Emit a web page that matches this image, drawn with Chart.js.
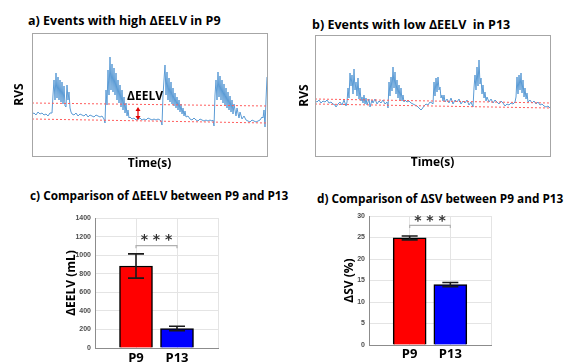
<!DOCTYPE html>
<html>
<head>
<meta charset="utf-8">
<script src="https://cdn.jsdelivr.net/npm/chart.js@4.4.0/dist/chart.umd.min.js"></script>
<style>
  html, body { margin: 0; padding: 0; background: #fff; }
  body { width: 573px; height: 363px; position: relative; overflow: hidden; }
  canvas { position: absolute; }
  .ttl { position: absolute; font: bold 12.5px "Open Sans", sans-serif; line-height: 14px; white-space: pre; color: #000; }
  .ttl.sm { font-size: 11.8px; }
</style>
</head>
<body>
<div class="ttl" id="tA" style="left:28px; top:14px;"></div>
<div class="ttl" id="tB" style="left:312px; top:18px;"></div>
<div class="ttl sm" id="tC" style="left:30px; top:188px;"></div>
<div class="ttl sm" id="tD" style="left:317px; top:191px;"></div>
<canvas id="chartA" width="270" height="145" style="left:8px; top:30px;"></canvas>
<canvas id="chartB" width="265" height="145" style="left:293px; top:30px;"></canvas>
<canvas id="chartC" width="170" height="158" style="left:60px; top:205px;"></canvas>
<canvas id="chartD" width="165" height="158" style="left:335px; top:205px;"></canvas>
<script>
// Panel titles
const titles = [
  'a) Events with high \u0394EELV in P9',
  'b) Events with low \u0394EELV  in P13',
  'c) Comparison of \u0394EELV between P9 and P13',
  'd) Comparison of \u0394SV between P9 and P13'
];

// RVS traces, [time, rvs] (arbitrary units)
const rvsP9 = [
  [0,42],[2,43],[4,41],[6,44],[8,42],[10,43],[12,41],[14,42],[16,40],[18,43],[20,43],
  [21,61],[22,76],[23,56],[24,83],[25,58],[26,79],[27,56],[28,76],[29,54],[30,74],[31,52],
  [32,70],[33,50],[34,49],[35,71],[36,56],[37,64],[38,48],[39,44],[40,42],
  [42,41],[44,43],[46,40],[48,42],[50,41],[52,40],[54,42],[56,39],[58,41],[60,40],[62,39],
  [64,41],[66,40],[68,39],[70,40],[72,37],[73,33],
  [74,66],[75,51],[76,86],[77,61],[78,99],[79,66],[80,92],[81,64],[82,88],[83,61],[84,83],
  [85,56],[86,76],[87,53],[88,71],[89,49],[90,66],[91,46],[92,59],[93,43],[94,53],[95,40],
  [96,46],[97,38],[98,39],
  [100,37],[102,38],[104,36],[106,37],[108,38],[110,36],[112,37],[114,36],[116,38],[118,37],
  [120,36],[122,37],[124,36],[126,37],[128,36],[129,35],[130,31],
  [131,61],[132,76],[133,91],[134,61],[135,84],[136,56],[137,78],[138,54],[139,74],[140,52],
  [141,68],[142,50],[143,63],[144,48],[145,59],[146,46],[147,56],[148,44],[149,52],[150,42],
  [151,48],[152,40],[153,45],[154,39],[156,40],
  [158,37],[160,36],[162,38],[164,36],[166,35],[168,37],[170,36],[172,35],[174,36],[176,35],
  [178,36],[180,35],[181,36],[182,30],
  [183,61],[184,76],[185,56],[186,84],[187,59],[188,80],[189,56],[190,76],[191,53],[192,72],
  [193,51],[194,68],[195,48],[196,64],[197,46],[198,60],[199,44],[200,56],[201,42],[202,52],
  [204,40],[205,48],[207,38],[208,44],[210,37],[212,40],[214,36],
  [216,35],[218,34],[220,36],[222,35],[224,34],[226,35],[228,36],[230,39],[231,38],
  [232,46],[233,29],[234,56],[235,79]
];
const rvsP13 = [
  [0,55],[2,54],[4,56],[6,53],[8,55],[10,54],[12,56],[14,53],[16,54],[18,52],[20,51],[21,49],
  [23,52],[25,54],[27,51],[29,56],[31,50],
  [32,54],[33,68],[34,58],[35,83],[36,70],[37,81],[38,62],[39,87],[40,66],[41,74],[42,60],
  [43,78],[44,57],[45,68],[46,55],[47,59],[48,53],[49,61],
  [50,52],[51,58],[52,51],[54,57],[55,49],[57,56],[58,53],[60,57],[62,52],[64,55],[66,53],
  [68,56],[70,52],[72,54],[73,48],
  [74,74],[75,60],[76,79],[77,65],[78,89],[79,68],[80,84],[81,62],[82,76],[83,58],[84,71],
  [85,56],[86,68],[87,55],[88,61],[89,54],[90,56],
  [92,54],[94,55],[96,53],[98,52],[100,51],[102,50],[104,48],[106,46],[107,47],[109,50],
  [111,52],[113,51],[115,54],[117,53],[118,52],
  [119,74],[120,60],[121,78],[122,64],[123,79],[124,66],[125,69],[126,58],[127,61],[128,55],
  [129,61],[130,54],
  [132,57],[134,53],[136,58],[138,52],[140,56],[142,54],[144,57],[146,52],[148,55],[150,53],
  [152,56],[154,51],[156,54],[158,49],
  [159,68],[160,81],[161,66],[162,89],[163,70],[164,96],[165,72],[166,78],[167,62],[168,71],
  [169,58],[170,64],[171,55],[172,59],
  [174,54],[176,57],[178,53],[180,56],[182,54],[184,52],[186,55],[188,53],[190,50],[192,52],
  [194,51],[196,53],[198,52],[200,54],
  [201,59],[202,79],[203,62],[204,81],[205,66],[206,83],[207,63],[208,76],[209,59],[210,68],
  [211,57],[212,63],[213,54],
  [215,56],[217,53],[219,55],[221,52],[223,54],[225,51],[227,52],[229,50],[231,49],[233,50],[235,48]
];

// EELV reference lines (start and end of record)
const eelvUpperP9 = [[0,53],[235,50]];
const eelvLowerP9 = [[0,37],[235,33]];
const eelvUpperP13 = [[0,57],[235,53]];
const eelvLowerP13 = [[0,52],[235,48]];

// Delta EELV marker in panel a: time, upper value, lower value
const deltaMark = { t: 106, top: 49, bottom: 36, label: '\u0394EELV', labelT: 113, labelV: 59 };

// Group comparison
const groups = ['P9', 'P13'];
const eelvMean = [883, 210];
const eelvSd = [131, 25];
const svMean = [24.9, 14.05];
const svSd = [0.45, 0.5];
const eelvTicks = { min: 0, max: 1400, step: 200 };
const svTicks = { min: 0, max: 30, step: 5 };
const eelvSig = { low: 1074, high: 1103, stars: 1160 };
const svSig = { low: 27.2, high: 27.8, stars: 28.8 };

['tA', 'tB', 'tC', 'tD'].forEach((id, i) => { document.getElementById(id).textContent = titles[i]; });

const FONT = '"Open Sans", sans-serif';
const toXY = arr => arr.map(p => ({ x: p[0], y: p[1] }));

// frame around the trace panels
const framePlugin = {
  id: 'frame',
  afterDraw(chart) {
    const a = chart.chartArea, ctx = chart.ctx;
    ctx.save();
    ctx.strokeStyle = '#a6a6a6';
    ctx.lineWidth = 1;
    ctx.strokeRect(Math.round(a.left) + 0.5, Math.round(a.top) + 0.5, Math.round(a.right - a.left), Math.round(a.bottom - a.top));
    ctx.restore();
  }
};

const deltaPlugin = {
  id: 'delta',
  afterDatasetsDraw(chart) {
    const x = chart.scales.x, y = chart.scales.y, ctx = chart.ctx;
    const px = x.getPixelForValue(deltaMark.t);
    const y1 = y.getPixelForValue(deltaMark.top), y2 = y.getPixelForValue(deltaMark.bottom);
    ctx.save();
    ctx.strokeStyle = '#e00000';
    ctx.fillStyle = '#e00000';
    ctx.lineWidth = 1.2;
    ctx.beginPath(); ctx.moveTo(px, y1 + 2); ctx.lineTo(px, y2 - 2); ctx.stroke();
    ctx.beginPath(); ctx.moveTo(px, y1); ctx.lineTo(px - 2.5, y1 + 4); ctx.lineTo(px + 2.5, y1 + 4); ctx.closePath(); ctx.fill();
    ctx.beginPath(); ctx.moveTo(px, y2); ctx.lineTo(px - 2.5, y2 - 4); ctx.lineTo(px + 2.5, y2 - 4); ctx.closePath(); ctx.fill();
    ctx.fillStyle = '#000';
    ctx.font = 'bold 12px ' + FONT;
    ctx.textAlign = 'center';
    ctx.textBaseline = 'middle';
    ctx.fillText(deltaMark.label, x.getPixelForValue(deltaMark.labelT), y.getPixelForValue(deltaMark.labelV));
    ctx.restore();
  }
};

function traceChart(id, trace, upper, lower, yMax, yAxisW, padTop, padRight, titlePadY, titlePadX, plugins) {
  const dotted = { borderColor: '#ff5b5b', borderWidth: 1, borderDash: [2, 2], pointRadius: 0, fill: false };
  return new Chart(document.getElementById(id), {
    type: 'line',
    data: {
      datasets: [
        Object.assign({ data: toXY(upper) }, dotted),
        Object.assign({ data: toXY(lower) }, dotted),
        { data: toXY(trace), borderColor: '#5b9bd5', borderWidth: 1, pointRadius: 0, tension: 0 }
      ]
    },
    options: {
      responsive: false, animation: false, devicePixelRatio: 1,
      layout: { padding: { top: padTop, right: padRight, left: 0, bottom: 0 } },
      plugins: { legend: { display: false }, tooltip: { enabled: false } },
      scales: {
        x: {
          type: 'linear', min: 0, max: 235,
          ticks: { display: false }, grid: { display: false }, border: { display: false },
          title: { display: true, text: 'Time(s)', color: '#000', font: { family: FONT, size: 12, weight: 'bold' }, padding: { bottom: titlePadY, top: 0 } },
          afterFit: s => { s.height = 19; }
        },
        y: {
          min: 0, max: yMax,
          ticks: { display: false }, grid: { display: false }, border: { display: false },
          title: { display: true, text: 'RVS', color: '#000', font: { family: FONT, size: 12, weight: 'bold' }, padding: { top: titlePadX, bottom: 0 } },
          afterFit: s => { s.width = yAxisW; }
        }
      }
    },
    plugins: plugins
  });
}

traceChart('chartA', rvsP9, eelvUpperP9, eelvLowerP9, 123, 24, 3, 11, 3.8, 4.8, [framePlugin, deltaPlugin]);
traceChart('chartB', rvsP13, eelvUpperP13, eelvLowerP13, 121, 22, 5, 8, 4.8, 4.8, [framePlugin]);

// error bars + significance bracket
function statsPlugin(sd, sig) {
  return {
    id: 'stats',
    afterDatasetsDraw(chart) {
      const x = chart.scales.x, y = chart.scales.y, ctx = chart.ctx;
      const vals = chart.data.datasets[0].data;
      ctx.save();
      ctx.strokeStyle = '#1a1a1a';
      ctx.lineWidth = 1.6;
      groups.forEach((g, i) => {
        const idx = i + 1, v = vals[idx];
        const px = x.getPixelForValue(idx);
        const top = y.getPixelForValue(v + sd[i]), bot = y.getPixelForValue(v - sd[i]);
        ctx.beginPath();
        ctx.moveTo(px, top); ctx.lineTo(px, bot);
        ctx.moveTo(px - 8, top); ctx.lineTo(px + 8, top);
        ctx.moveTo(px - 8, bot); ctx.lineTo(px + 8, bot);
        ctx.stroke();
      });
      const x1 = x.getPixelForValue(1), x2 = x.getPixelForValue(2);
      const yl = y.getPixelForValue(sig.low), yh = y.getPixelForValue(sig.high);
      ctx.strokeStyle = '#b0b0b0';
      ctx.lineWidth = 1.2;
      ctx.beginPath();
      ctx.moveTo(x1, yl); ctx.lineTo(x1, yh); ctx.lineTo(x2, yh); ctx.lineTo(x2, yl);
      ctx.stroke();
      ctx.fillStyle = '#333';
      ctx.font = 'bold 14px "DejaVu Sans", sans-serif';
      ctx.textAlign = 'center';
      ctx.textBaseline = 'middle';
      ctx.fillText('* * *', (x1 + x2) / 2, y.getPixelForValue(sig.stars));
      ctx.restore();
    }
  };
}

function barChart(id, means, sd, tk, sig, yTitle, yAxisW, xAxisH, padTop, padRight, titlePadX, tickPad) {
  return new Chart(document.getElementById(id), {
    type: 'bar',
    data: {
      labels: [''].concat(groups, ['']),
      datasets: [{
        data: [null].concat(means, [null]),
        backgroundColor: ['#ff0000', '#ff0000', '#0000ff', '#0000ff'],
        borderColor: '#000', borderWidth: 1.5, barThickness: 33
      }]
    },
    options: {
      responsive: false, animation: false, devicePixelRatio: 1,
      layout: { padding: { top: padTop, right: padRight, left: 0, bottom: 0 } },
      plugins: { legend: { display: false }, tooltip: { enabled: false } },
      scales: {
        x: {
          type: 'category', offset: false,
          grid: { color: '#e4e4e4', drawTicks: false, offset: false },
          border: { color: '#8c8c8c' },
          ticks: { color: '#000', font: { family: FONT, size: 13, weight: 'bold' }, padding: tickPad, autoSkip: false, maxRotation: 0 },
          afterFit: s => { s.height = xAxisH; }
        },
        y: {
          min: tk.min, max: tk.max,
          grid: { color: '#e4e4e4', drawTicks: false },
          border: { color: '#8c8c8c' },
          ticks: { stepSize: tk.step, color: '#4d4d4d', font: { family: 'Liberation Sans', size: 7, weight: 'bold' }, padding: 4, callback: v => String(v) },
          title: { display: true, text: yTitle, color: '#000', font: { family: FONT, size: 12, weight: 'bold' }, padding: { top: titlePadX, bottom: 0 } },
          afterFit: s => { s.width = yAxisW; }
        }
      }
    },
    plugins: [statsPlugin(sd, sig)]
  });
}

barChart('chartC', eelvMean, eelvSd, eelvTicks, eelvSig, '\u0394EELV (mL)', 35, 15, 13, 12, 4.8, 2);
barChart('chartD', svMean, svSd, svTicks, svSig, '\u0394SV (%)', 34, 18, 11, 9, 7.8, 1);
</script>
</body>
</html>
